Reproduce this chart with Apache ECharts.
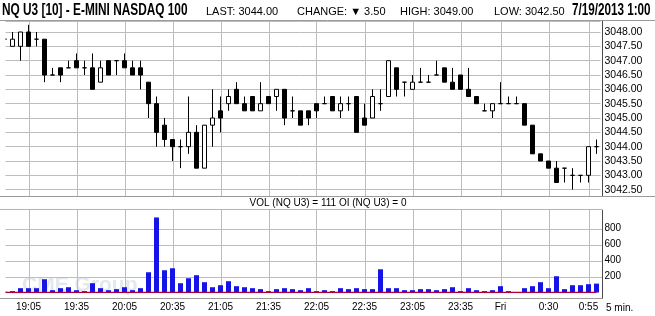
<!DOCTYPE html>
<html><head><meta charset="utf-8">
<script src="https://cdn.jsdelivr.net/npm/echarts@6/dist/echarts.min.js"></script>
<style>html,body{margin:0;padding:0;background:#fff}#c{width:655px;height:316px}</style>
</head><body><div id="c"></div>
<script>
const categories = ['18:50','18:55','19:00','19:05','19:10','19:15','19:20','19:25','19:30','19:35',
  '19:40','19:45','19:50','19:55','20:00','20:05','20:10','20:15','20:20','20:25',
  '20:30','20:35','20:40','20:45','20:50','20:55','21:00','21:05','21:10','21:15',
  '21:20','21:25','21:30','21:35','21:40','21:45','21:50','21:55','22:00','22:05',
  '22:10','22:15','22:20','22:25','22:30','22:35','22:40','22:45','22:50','22:55',
  '23:00','23:05','23:10','23:15','23:20','23:25','23:30','23:35','23:40','23:45',
  '23:50','23:55','0:00','0:05','0:10','0:15','0:20','0:25','0:30','0:35',
  '0:40','0:45','0:50','0:55','1:00'];
const openP = [3047.75,3047.5,3047.5,3048.0,3047.75,3047.75,3046.5,3046.75,3046.75,3047.0,
  3046.75,3046.75,3046.25,3047.0,3047.0,3047.0,3046.75,3046.75,3046.25,3045.5,
  3044.75,3044.25,3044.0,3044.0,3044.5,3043.25,3044.75,3045.25,3045.5,3046.0,
  3045.5,3045.75,3045.25,3045.75,3045.75,3046.0,3045.25,3045.25,3045.25,3045.5,
  3045.5,3045.75,3045.25,3045.5,3045.75,3045.0,3045.0,3045.5,3045.75,3046.75,
  3046.25,3046.0,3046.25,3046.25,3046.5,3046.75,3046.25,3046.5,3046.0,3045.75,
  3045.25,3045.25,3045.5,3045.5,3045.5,3045.5,3044.75,3043.75,3043.5,3043.25,
  3043.25,3043.0,3043.0,3043.0,3044.0];
const closeP = [3047.75,3047.75,3048.0,3047.5,3047.75,3046.5,3046.5,3046.5,3046.75,3046.75,
  3046.75,3046.0,3046.75,3046.5,3047.0,3046.75,3046.5,3046.5,3045.5,3044.5,
  3044.25,3044.0,3044.0,3044.5,3043.25,3044.75,3045.0,3045.0,3045.75,3045.5,
  3045.25,3045.25,3045.5,3045.5,3046.0,3045.0,3045.25,3044.75,3045.0,3045.25,
  3045.5,3045.25,3045.5,3045.5,3044.5,3044.75,3045.75,3045.5,3047.0,3046.0,
  3046.25,3046.25,3046.25,3046.25,3046.5,3046.25,3046.0,3046.0,3045.75,3045.5,
  3045.25,3045.5,3045.5,3045.5,3045.5,3044.75,3043.75,3043.5,3043.25,3042.75,
  3043.25,3043.0,3043.0,3044.0,3044.0];
const lowP = [3047.75,3047.5,3047.0,3047.5,3047.5,3046.25,3046.5,3046.25,3046.75,3046.75,
  3046.5,3046.0,3046.25,3046.5,3046.5,3046.75,3046.5,3046.0,3045.0,3044.0,
  3044.0,3043.5,3043.25,3043.75,3043.25,3043.25,3044.0,3044.5,3045.25,3045.5,
  3045.25,3045.25,3045.25,3045.5,3045.25,3044.75,3045.0,3044.75,3044.75,3045.0,
  3045.5,3045.25,3045.0,3045.25,3044.5,3044.75,3045.0,3045.25,3045.75,3045.75,
  3045.75,3046.0,3046.25,3046.25,3046.5,3046.25,3046.0,3046.0,3045.75,3045.5,
  3045.25,3045.0,3045.5,3045.5,3045.5,3044.75,3043.75,3043.5,3043.25,3042.75,
  3042.75,3042.5,3042.75,3042.75,3043.75];
const highP = [3047.75,3048.0,3048.0,3048.25,3048.0,3047.75,3046.75,3046.75,3047.0,3047.25,
  3047.0,3047.25,3047.0,3047.0,3047.0,3047.25,3047.0,3047.0,3046.25,3045.75,
  3045.0,3044.25,3044.25,3045.75,3044.75,3044.75,3046.0,3045.75,3046.0,3046.25,
  3045.75,3045.75,3046.25,3045.75,3046.0,3046.0,3045.75,3045.25,3045.25,3045.5,
  3045.75,3045.75,3045.75,3045.75,3045.75,3045.5,3046.0,3046.0,3047.0,3046.75,
  3046.25,3046.5,3046.75,3046.5,3047.0,3046.75,3046.75,3046.5,3046.75,3045.75,
  3045.5,3045.5,3046.25,3045.75,3045.75,3045.5,3044.75,3043.75,3043.5,3043.5,
  3043.25,3043.25,3043.0,3044.0,3044.25];
const volume = [10,17,54,54,54,166,29,54,66,29,
  17,116,54,29,42,66,29,54,253,938,
  278,303,116,178,216,129,66,91,141,79,
  66,54,42,17,42,54,42,29,54,17,
  29,17,54,42,54,42,42,290,54,54,
  29,29,42,42,29,42,66,17,54,29,
  17,29,79,17,3,54,79,129,54,203,
  42,91,91,104,111];
const openInterest = [0,0,0,0,0,0,0,0,0,0, 0,0,0,0,0,0,0,0,0,0, 0,0,0,0,0,0,0,0,0,0,
  0,0,0,0,0,0,0,0,0,0, 0,0,0,0,0,0,0,0,0,0, 0,0,0,0,0,0,0,0,0,0, 0,0,0,0,0,0,0,0,0,0, 0,0,0,0,0];
const xTickTimes = ['19:05','19:35','20:05','20:35','21:05','21:35','22:05','22:35','23:05','23:35','0:00','0:30','0:55'];
const xTickTexts = ['19:05','19:35','20:05','20:35','21:05','21:35','22:05','22:35','23:05','23:35','Fri','0:30','0:55'];
const volTicks = [200,400,600,800];
const titleText = 'NQ U3 [10] - E-MINI NASDAQ 100';
const lastText = 'LAST: 3044.00';
const changeText = 'CHANGE: \u25BC 3.50';
const highText = 'HIGH: 3049.00';
const lowText = 'LOW: 3042.50';
const stampText = '7/19/2013 1:00';
const periodText = '5 min.';

const FONT = '"Liberation Sans", Arial, sans-serif';
const GRID = '#bdbdbd';
const tickSet = new Set(xTickTimes);
const isTick = (i, v) => tickSet.has(v);
const n = categories.length;
const lastClose = closeP[n - 1];
const lastVol = volume[n - 1];
const lastOI = openInterest[n - 1];

function vGridRender(params, api) {
  const cs = params.coordSys;
  const x = Math.round(api.coord([api.value(0), 0])[0]) + 0.5;
  return {type: 'line', shape: {x1: x, y1: cs.y, x2: x, y2: cs.y + cs.height},
    style: {stroke: GRID, lineWidth: 1}};
}
function hGridRender(params, api) {
  const cs = params.coordSys;
  const y = Math.round(api.coord([0, api.value(1)])[1]) + 0.5;
  return {type: 'line', shape: {x1: cs.x, y1: y, x2: cs.x + cs.width + 2, y2: y},
    style: {stroke: GRID, lineWidth: 1}};
}

const chart = echarts.init(document.getElementById('c'), null, {renderer: 'canvas'});
chart.setOption({
  animation: false,
  grid: [
    {left: 0.5, top: 21, width: 600, height: 183},
    {left: 0.5, top: 209.3, width: 600, height: 83.2}
  ],
  xAxis: [
    {type: 'category', gridIndex: 0, data: categories, boundaryGap: true,
     axisLine: {show: false}, axisTick: {show: false}, axisLabel: {show: false}, splitLine: {show: false}},
    {type: 'category', gridIndex: 1, data: categories, boundaryGap: true,
     axisLine: {show: false}, axisTick: {show: false}, splitLine: {show: false},
     axisLabel: {interval: isTick, margin: 10, fontSize: 10, color: '#000', fontFamily: FONT,
       formatter: v => xTickTexts[xTickTimes.indexOf(v)]}}
  ],
  yAxis: [
    {type: 'value', gridIndex: 0, position: 'right', min: 3042, max: 3048.384, interval: 0.5,
     axisLine: {show: false}, axisTick: {show: false},
     splitLine: {show: true, lineStyle: {color: GRID, width: 1}},
     axisLabel: {margin: 4, fontSize: 10.5, color: '#000', fontFamily: FONT, padding: [3, 0, 0, 0],
       formatter: v => (v >= 3042.49 && v <= 3048.01 && Math.abs(v * 2 - Math.round(v * 2)) < 1e-6) ? v.toFixed(2) : ''}},
    {type: 'value', gridIndex: 1, position: 'right', min: 0, max: 1040, interval: 200,
     axisLine: {show: false}, axisTick: {show: false}, splitLine: {show: false},
     axisLabel: {margin: 4, fontSize: 10, color: '#000', fontFamily: FONT, padding: [8, 0, 0, 0],
       formatter: v => volTicks.includes(v) ? String(v) : ''}}
  ],
  series: [
    {type: 'custom', xAxisIndex: 0, yAxisIndex: 0, z: 10,
     data: xTickTimes.map(t => [t]), encode: {x: 0}, renderItem: vGridRender},
    {type: 'custom', xAxisIndex: 1, yAxisIndex: 1, z: 10,
     data: xTickTimes.map(t => [t]), encode: {x: 0}, renderItem: vGridRender},
    {type: 'custom', xAxisIndex: 1, yAxisIndex: 1, z: 10,
     data: volTicks.map(v => [0, v]), encode: {x: 0, y: 1}, renderItem: hGridRender},
    {type: 'candlestick', xAxisIndex: 0, yAxisIndex: 0, barWidth: 5, z: 12,
     data: categories.map((c, i) => [openP[i], closeP[i], lowP[i], highP[i]]),
     itemStyle: {color: '#fff', color0: '#000', borderColor: '#000', borderColor0: '#000', borderWidth: 1},
     markLine: {silent: true, symbol: 'none', z: 20, data: [{yAxis: lastClose}],
       lineStyle: {opacity: 0},
       label: {position: 'end', distance: 3, formatter: lastClose.toFixed(2), backgroundColor: '#000',
         color: '#fff', fontSize: 10.5, fontFamily: FONT, padding: [1, 3, 0, 2], lineHeight: 10}}},
    {type: 'bar', xAxisIndex: 1, yAxisIndex: 1, data: volume, barWidth: 5, z: 12,
     itemStyle: {color: '#1414e6'},
     markLine: {silent: true, symbol: 'none', z: 20, data: [{yAxis: lastVol}],
       lineStyle: {opacity: 0},
       label: {position: 'end', distance: 3, formatter: String(lastVol), backgroundColor: '#1e1ee6',
         color: '#fff', fontSize: 10, fontFamily: FONT, width: 46, align: 'left', padding: [0, 2, 0, 2], lineHeight: 11}}},
    {type: 'line', xAxisIndex: 1, yAxisIndex: 1, data: openInterest, symbol: 'none', z: 13,
     lineStyle: {color: '#b0003a', width: 1.5},
     markLine: {silent: true, symbol: 'none', z: 21, data: [{yAxis: lastOI}],
       lineStyle: {opacity: 0},
       label: {position: 'end', distance: 3, formatter: String(lastOI), backgroundColor: '#ff0000',
         color: '#fff', fontSize: 10, fontFamily: FONT, width: 46, align: 'left', padding: [0, 2, 0, 2], lineHeight: 11}}}
  ],
  graphic: [
    {type: 'text', x: 22, y: 285, z: 1, silent: true,
     style: {text: 'CME Group', fill: '#e3e7ee', font: 'bold 21px ' + FONT, verticalAlign: 'middle'}},
    {type: 'rect', z: 50, silent: true, shape: {x: 0, y: 21, width: 5.5, height: 278}, style: {fill: '#fff'}},
    {type: 'rect', z: 50, silent: true, shape: {x: 0, y: 196.5, width: 655, height: 13}, style: {fill: '#fff'}},
    {type: 'line', z: 51, silent: true, shape: {x1: 0, y1: 20.5, x2: 655, y2: 20.5}, style: {stroke: '#9a9a9a', lineWidth: 1}},
    {type: 'line', z: 51, silent: true, shape: {x1: 0, y1: 196.5, x2: 655, y2: 196.5}, style: {stroke: '#9a9a9a', lineWidth: 1}},
    {type: 'line', z: 51, silent: true, shape: {x1: 0, y1: 209.5, x2: 602.5, y2: 209.5}, style: {stroke: '#b4b4b4', lineWidth: 1}},
    {type: 'line', z: 51, silent: true, shape: {x1: 0, y1: 298.5, x2: 602.5, y2: 298.5}, style: {stroke: '#9a9a9a', lineWidth: 1}},
    {type: 'line', z: 51, silent: true, shape: {x1: 602.5, y1: 21, x2: 602.5, y2: 196}, style: {stroke: '#4a4a4a', lineWidth: 1}},
    {type: 'line', z: 51, silent: true, shape: {x1: 602.5, y1: 210, x2: 602.5, y2: 298.5}, style: {stroke: '#4a4a4a', lineWidth: 1}},
    {type: 'text', z: 52, x: 328, y: 203.5, silent: true,
     style: {text: 'VOL (NQ U3) = ' + lastVol + ' OI (NQ U3) = ' + lastOI, fill: '#000',
       font: '10px ' + FONT, align: 'center', verticalAlign: 'middle'}},
    {type: 'text', z: 52, x: 2, y: 10.5, scaleX: 0.74, silent: true,
     style: {text: titleText, fill: '#000', font: 'bold 16px ' + FONT, align: 'left', verticalAlign: 'middle'}},
    {type: 'text', z: 52, x: 206, y: 11.5, silent: true,
     style: {text: lastText, fill: '#000', font: '11px ' + FONT, verticalAlign: 'middle'}},
    {type: 'text', z: 52, x: 297, y: 11.5, silent: true,
     style: {text: changeText, fill: '#000', font: '11px ' + FONT, verticalAlign: 'middle'}},
    {type: 'text', z: 52, x: 400, y: 11.5, silent: true,
     style: {text: highText, fill: '#000', font: '11px ' + FONT, verticalAlign: 'middle'}},
    {type: 'text', z: 52, x: 494, y: 11.5, silent: true,
     style: {text: lowText, fill: '#000', font: '11px ' + FONT, verticalAlign: 'middle'}},
    {type: 'text', z: 52, x: 572, y: 10.5, scaleX: 0.73, silent: true,
     style: {text: stampText, fill: '#000', font: 'bold 16px ' + FONT, align: 'left', verticalAlign: 'middle'}},
    {type: 'text', z: 52, x: 606, y: 308, silent: true,
     style: {text: periodText, fill: '#000', font: '10px ' + FONT, verticalAlign: 'middle'}}
  ]
});
</script></body></html>
